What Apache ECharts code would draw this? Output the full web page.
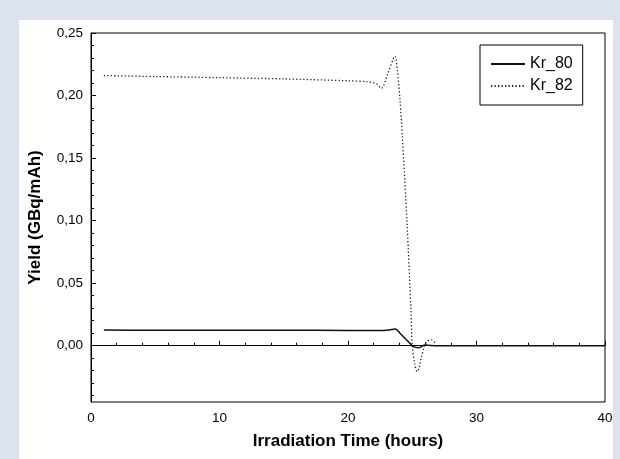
<!DOCTYPE html>
<html><head><meta charset="utf-8">
<script src="https://cdn.jsdelivr.net/npm/echarts@6/dist/echarts.min.js"></script>
<style>html,body{margin:0;padding:0;background:#dde2ef;}#c{width:620px;height:459px;}</style>
</head><body><div id="c"></div>
<script>
const hours80 = [1, 5, 10, 15, 20, 22.5, 23.2, 23.66, 24.18, 24.7, 25.1, 25.5, 26.0, 26.9, 30, 35, 40];
const kr80 = [0.0125, 0.0124, 0.0123, 0.0123, 0.0122, 0.0121, 0.0126, 0.0133, 0.0085, 0.0032, -0.0008, -0.0016, 0.0005, 0.0, 0, 0, 0];
const hours82 = [1, 5, 10, 15, 20, 21.5, 22.2, 22.6, 23.1, 23.66, 23.84, 24.05, 24.23, 24.6, 24.9, 25.0, 25.2, 25.38, 25.55, 25.72, 26.1, 26.5, 26.8];
const kr82 = [0.216, 0.2152, 0.2143, 0.2133, 0.2118, 0.211, 0.2095, 0.2058, 0.2176, 0.2314, 0.220, 0.196, 0.167, 0.097, 0.028, 0.0, -0.015, -0.0208, -0.017, -0.0088, 0.0032, 0.0046, 0.002];
const yMajorTicks = [0, 0.05, 0.10, 0.15, 0.20, 0.25];
const yMinorTicks = [-0.04, -0.03, -0.02, -0.01, 0.01, 0.02, 0.03, 0.04, 0.06, 0.07, 0.08, 0.09, 0.11, 0.12, 0.13, 0.14, 0.16, 0.17, 0.18, 0.19, 0.21, 0.22, 0.23, 0.24];
const seriesNames = ['Kr_80', 'Kr_82'];

const chart = echarts.init(document.getElementById('c'), null, {renderer: 'canvas'});
const font = 'Liberation Sans, Arial, sans-serif';
const zip = (xs, ys) => xs.map((x, i) => [x, ys[i]]);
chart.setOption({
  backgroundColor: '#dde2ef',
  animation: false,
  graphic: [{type: 'rect', left: 19, top: 20, shape: {width: 594, height: 440}, style: {fill: '#ffffff'}, z: -10}],
  grid: {left: 91, right: 15, top: 33, bottom: 57, show: true, borderColor: '#000', borderWidth: 1, backgroundColor: 'transparent'},
  legend: {
    data: seriesNames, left: 480, top: 45, orient: 'vertical',
    borderColor: '#000', borderWidth: 1, padding: [11, 10, 11, 10],
    itemWidth: 34, itemHeight: 14, itemGap: 6,
    itemStyle: {color: 'transparent', borderWidth: 0, opacity: 0},
    textStyle: {fontFamily: font, fontSize: 16, color: '#000'}
  },
  xAxis: {
    type: 'value', min: 0, max: 40, interval: 10,
    name: 'Irradiation Time (hours)', nameLocation: 'middle', nameGap: 31,
    nameTextStyle: {fontFamily: font, fontSize: 17, fontWeight: 'bold', color: '#000'},
    axisLine: {lineStyle: {color: '#000', width: 1}},
    axisTick: {inside: true, length: 5, lineStyle: {color: '#000'}},
    minorTick: {show: true, splitNumber: 5, length: 3, lineStyle: {color: '#000'}},
    axisLabel: {fontFamily: font, fontSize: 13.5, color: '#000', margin: 9},
    splitLine: {show: false}
  },
  yAxis: [{
    type: 'value', min: -0.045, max: 0.25,
    name: 'Yield (GBq/mAh)', nameLocation: 'middle', nameGap: 47,
    nameTextStyle: {fontFamily: font, fontSize: 17, fontWeight: 'bold', color: '#000'},
    axisLine: {show: true, lineStyle: {color: '#000', width: 1}},
    axisTick: {show: true, inside: true, length: 5, customValues: yMajorTicks, lineStyle: {color: '#000'}},
    axisLabel: {fontFamily: font, fontSize: 13.5, color: '#000', margin: 8, customValues: yMajorTicks,
      formatter: v => v.toFixed(2).replace('.', ',')},
    splitLine: {show: false}
  }, {
    type: 'value', min: -0.045, max: 0.25, position: 'left', offset: 0,
    axisLine: {show: false},
    axisTick: {show: true, inside: true, length: 3, customValues: yMinorTicks, lineStyle: {color: '#000'}},
    axisLabel: {show: false},
    splitLine: {show: false}
  }],
  series: [{
    name: 'Kr_80', type: 'line', data: zip(hours80, kr80), showSymbol: false, symbol: 'none',
    smooth: 0.3, lineStyle: {color: '#111', width: 1.5, type: 'solid'}, itemStyle: {color: '#111'}
  }, {
    name: 'Kr_82', type: 'line', data: zip(hours82, kr82), showSymbol: false, symbol: 'none',
    smooth: 0.3, lineStyle: {color: '#222', width: 1.3, type: [1.3, 2.2]}, itemStyle: {color: '#222'}
  }]
});
</script></body></html>
